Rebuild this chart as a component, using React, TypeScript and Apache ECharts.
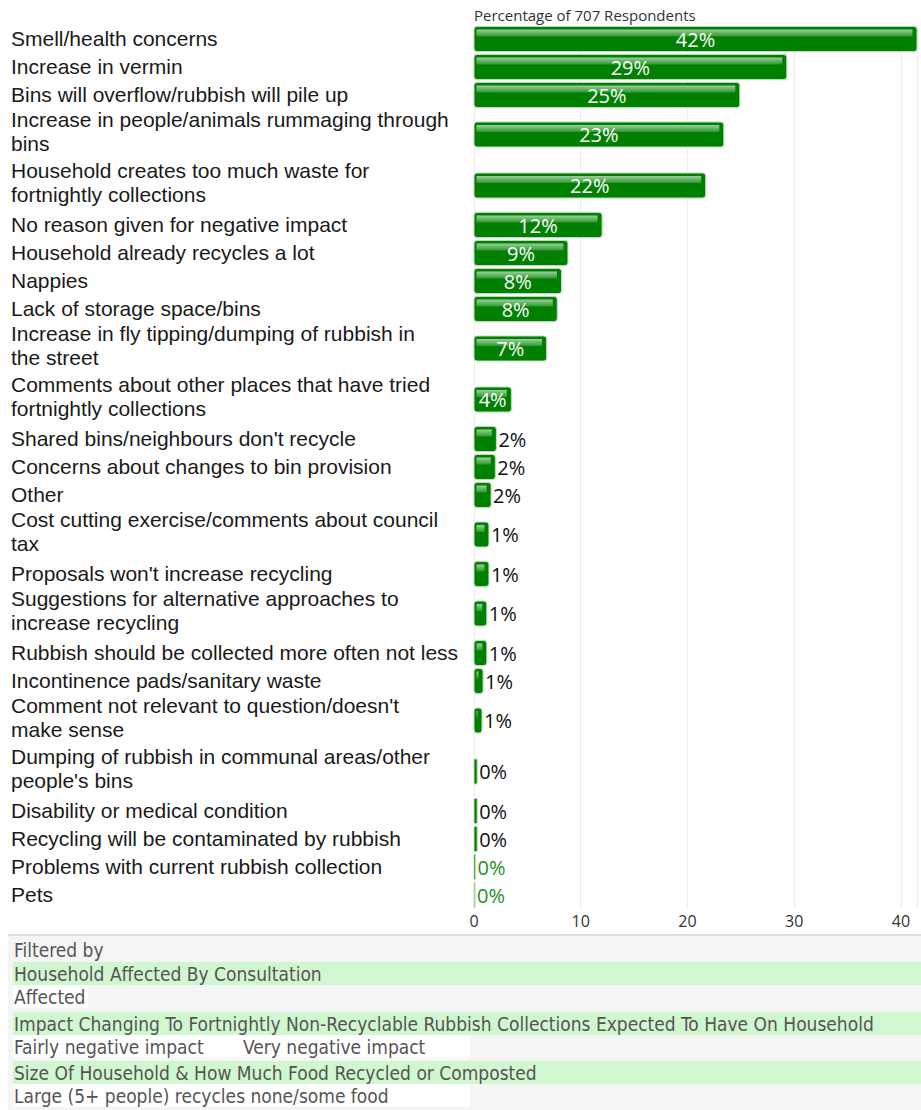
import React, { useEffect, useRef } from "react";
import * as echarts from "echarts";

const categories: string[] = [
  "Smell/health concerns",
  "Increase in vermin",
  "Bins will overflow/rubbish will pile up",
  "Increase in people/animals rummaging through\nbins",
  "Household creates too much waste for\nfortnightly collections",
  "No reason given for negative impact",
  "Household already recycles a lot",
  "Nappies",
  "Lack of storage space/bins",
  "Increase in fly tipping/dumping of rubbish in\nthe street",
  "Comments about other places that have tried\nfortnightly collections",
  "Shared bins/neighbours don't recycle",
  "Concerns about changes to bin provision",
  "Other",
  "Cost cutting exercise/comments about council\ntax",
  "Proposals won't increase recycling",
  "Suggestions for alternative approaches to\nincrease recycling",
  "Rubbish should be collected more often not less",
  "Incontinence pads/sanitary waste",
  "Comment not relevant to question/doesn't\nmake sense",
  "Dumping of rubbish in communal areas/other\npeople's bins",
  "Disability or medical condition",
  "Recycling will be contaminated by rubbish",
  "Problems with current rubbish collection",
  "Pets",
];

const percentages: number[] = [
  41.5, 29.3, 24.9, 23.4, 21.7, 12.0, 8.8, 8.2, 7.8, 6.8, 3.5, 2.1, 2.0, 1.6,
  1.4, 1.4, 1.2, 1.2, 0.85, 0.75, 0.3, 0.3, 0.3, 0.15, 0.1,
];

const axisTicks: number[] = [0, 10, 20, 30, 40];
const measureTitle = "Percentage of 707 Respondents";

const filterHeading = "Filtered by";
const filterNames: string[] = [
  "Household Affected By Consultation",
  "Impact Changing To Fortnightly Non-Recyclable Rubbish Collections Expected To Have On Household",
  "Size Of Household & How Much Food Recycled or Composted",
];
const filterValues: string[][] = [
  ["Affected"],
  ["Fairly negative impact", "Very negative impact"],
  ["Large (5+ people) recycles none/some food"],
];

const LABEL_FONT = '"Open Sans", "Noto Sans", sans-serif';
const CAT_FONT = '"Liberation Sans", Arial, sans-serif';
const FILTER_FONT = '"Liberation Sans Narrow", "DejaVu Sans Condensed", sans-serif';

export default function App() {
  const ref = useRef<HTMLDivElement>(null);

  useEffect(() => {
    if (!ref.current) return;
    const prevMargin = document.body.style.margin;
    document.body.style.margin = "0";
    const chart = echarts.init(ref.current, undefined, { renderer: "svg" });

    // row layout: single-line rows are shorter than two-line rows
    const rowSize = categories.map((c) => (c.split("\n").length > 1 ? 51 : 28));
    const centers: number[] = [];
    let acc = 0;
    rowSize.forEach((s) => {
      centers.push(acc + s / 2);
      acc += s;
    });
    const total = acc;
    const data = percentages.map((v, i) => [v, centers[i], i]);

    const gridLeft = 474;
    const gridTop = 25;
    const barH = 25;
    const lineGap = 24;

    const txt = (text: string, x: number, y: number, font: string, fill: string) => ({
      type: "text",
      x,
      y,
      style: {
        text,
        fill,
        font,
        textVerticalAlign: "middle",
        verticalAlign: "middle",
      },
    });

    // filter panel graphics
    const panelTop = 935;
    const g: any[] = [
      {
        type: "rect",
        shape: { x: 8, y: panelTop, width: 913, height: 1110 - panelTop },
        style: { fill: "#f5f5f5" },
        silent: true,
      },
      {
        type: "line",
        shape: { x1: 8, y1: panelTop, x2: 921, y2: panelTop },
        style: { stroke: "#dedede", lineWidth: 2 },
      },
      txt(filterHeading, 14, 950, `19px ${FILTER_FONT}`, "#555"),
      txt(measureTitle, 474, 15, `15px ${LABEL_FONT}`, "#333"),
    ];
    const bandTops = [962, 1012, 1061];
    const valueBoxW = [75, 457, 457];
    const valueOffsets = [0, 229];
    filterNames.forEach((name, i) => {
      const t = bandTops[i];
      g.push({
        type: "rect",
        shape: { x: 13, y: t, width: 908, height: 23 },
        style: { fill: "#d1f7d1" },
      });
      g.push(txt(name, 14, t + 11.5, `19px ${FILTER_FONT}`, "#555"));
      g.push({
        type: "rect",
        shape: { x: 13, y: t + 23, width: valueBoxW[i], height: 23 },
        style: { fill: "#ffffff" },
      });
      filterValues[i].forEach((val, j) => {
        g.push(txt(val, 14 + valueOffsets[j], t + 34.5, `19px ${FILTER_FONT}`, "#555"));
      });
    });

    const option: any = {
      animation: false,
      grid: { left: gridLeft, top: gridTop, width: 443, height: total },
      xAxis: {
        type: "value",
        min: 0,
        max: 41.5,
        interval: 10,
        axisLine: { show: false },
        axisTick: { show: false },
        axisLabel: {
          showMaxLabel: false,
          margin: 4,
          color: "#333",
          fontSize: 16,
          fontFamily: LABEL_FONT,
          formatter: (v: number) => (axisTicks.includes(v) ? String(v) : ""),
        },
        splitLine: { show: true, lineStyle: { color: "#ececec", width: 1 } },
      },
      yAxis: {
        type: "value",
        inverse: true,
        min: 0,
        max: total,
        show: false,
        splitLine: { show: false },
      },
      graphic: g,
      series: [
        {
          type: "custom",
          clip: false,
          encode: { x: 0, y: 1 },
          data,
          renderItem: (params: any, api: any) => {
            const v = api.value(0);
            const c = api.value(1);
            const idx = api.value(2);
            const p0 = api.coord([0, c]);
            const p1 = api.coord([v, c]);
            const x = p0[0];
            const w = Math.max(p1[0] - p0[0], 1);
            const y = p0[1] - barH / 2;
            const children: any[] = [];
            children.push({
              type: "rect",
              shape: { x, y, width: w, height: barH, r: w > 6 ? 3 : 1 },
              style: {
                fill: v < 0.12 ? "#8cc48c" : "#008000",
                stroke: "#b9dab9",
                lineWidth: 1,
              },
            });
            const hw = w > 8 ? w - 7 : w - 3;
            if (hw > 0) {
              children.push({
                type: "rect",
                shape: { x: x + 2.5, y: y + 3, width: hw, height: 7 },
                style: {
                  fill: new echarts.graphic.LinearGradient(0, 0, 0, 1, [
                    { offset: 0, color: "#9bd09b" },
                    { offset: 1, color: "#2f972f" },
                  ]),
                },
              });
            }
            const label = Math.round(v) + "%";
            const inside = v >= 3;
            children.push({
              type: "text",
              style: {
                text: label,
                x: inside ? x + w / 2 : x + w + 2,
                y: p0[1],
                fill: inside ? "#ffffff" : v < 0.2 ? "#1f8f1f" : "#111111",
                font: `20px ${LABEL_FONT}`,
                textAlign: inside ? "center" : "left",
                align: inside ? "center" : "left",
                textVerticalAlign: "middle",
                verticalAlign: "middle",
              },
            });
            const lines = categories[idx].split("\n");
            const shift = lines.length > 1 ? -3 : -1;
            lines.forEach((ln, k) => {
              children.push({
                type: "text",
                style: {
                  text: ln,
                  x: 11,
                  y: p0[1] + shift + (k - (lines.length - 1) / 2) * lineGap,
                  fill: "#1a1a1a",
                  font: `21px ${CAT_FONT}`,
                  textAlign: "left",
                  align: "left",
                  textVerticalAlign: "middle",
                  verticalAlign: "middle",
                },
              });
            });
            return { type: "group", children };
          },
        },
      ],
    };
    chart.setOption(option);
    return () => {
      chart.dispose();
      document.body.style.margin = prevMargin;
    };
  }, []);

  return <div ref={ref} style={{ width: 921, height: 1110 }} />;
}
